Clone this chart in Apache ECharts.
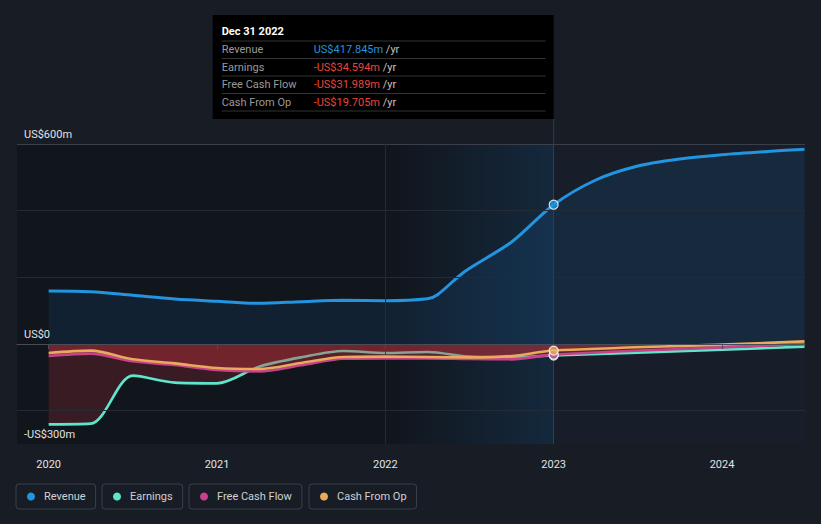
<!DOCTYPE html>
<html><head><meta charset="utf-8">
<script src="https://cdn.jsdelivr.net/npm/echarts@6/dist/echarts.min.js"></script>
<style>html,body{margin:0;padding:0;background:#171c25;}#c{width:821px;height:524px;}</style>
</head><body><div id="c"></div>
<script>
// ---- data (values in US$ millions, dates as decimal years) ----
const revenueDates = [2020.0, 2020.25, 2020.5, 2020.75, 2021.0, 2021.25, 2021.5, 2021.75, 2022.0, 2022.25, 2022.31, 2022.47, 2022.75, 2023.0, 2023.25, 2023.5, 2023.75, 2024.0, 2024.25, 2024.49];
const revenueValues = [159, 157, 146, 135, 128, 122, 127, 131, 130, 136, 148, 217, 306, 417.845, 492, 534, 555, 568, 577, 584];
const flowDates = [2020.0, 2020.25, 2020.5, 2020.75, 2021.0, 2021.25, 2021.5, 2021.75, 2022.0, 2022.25, 2022.5, 2022.75, 2023.0, 2024.0, 2024.49];
const earningsValues = [-241, -239, -95, -116, -118, -68, -40, -21, -27, -24, -38, -40, -34.594, -17, -8];
const fcfValues = [-36, -29, -52, -63, -78, -82, -64, -44, -43, -43, -45, -46, -31.989, -10, 0];
const cfoValues = [-27, -20, -46, -58, -72, -75, -57, -39, -38, -39, -40, -36, -19.705, -2, 8];
const yearTicks = [2020, 2021, 2022, 2023, 2024];
const yLabelValues = [-300, 0, 600];
const gridValues = [400, 200, -200];
const xMin = 2019.812, xMax = 2024.493;
const pastStart = 2022, presentDate = 2023;
const tooltipTitle = 'Dec 31 2022';
const tooltipRows = [
  ['Revenue', 'US$417.845m', '#2394df'],
  ['Earnings', '-US$34.594m', '#e8453e'],
  ['Free Cash Flow', '-US$31.989m', '#e8453e'],
  ['Cash From Op', '-US$19.705m', '#e8453e']
];
const names = ['Revenue', 'Earnings', 'Free Cash Flow', 'Cash From Op'];
const colors = ['#2394df', '#5ee6cd', '#c7428a', '#e9aa5c'];
const legendLefts = [16, 102, 189, 309];

const FONT = 'Roboto, "Noto Sans", sans-serif';
const zip = (xs, ys) => xs.map((x, i) => [x, ys[i]]);
const redArea = { color: 'rgba(210,52,62,0.30)', origin: 0 };
const presentIdx = flowDates.indexOf(presentDate);
const presentRevIdx = revenueDates.indexOf(presentDate);
const SMOOTH = 0.3;

const chart = echarts.init(document.getElementById('c'), null, { renderer: 'svg' });

const option = {
  backgroundColor: '#171c25',
  animation: false,
  grid: { left: 17, right: 16, top: 144, bottom: 80 },
  xAxis: {
    type: 'value', min: xMin, max: xMax, z: 10,
    splitLine: { show: false },
    axisLine: { show: true, lineStyle: { color: '#474c56', width: 1 } },
    axisTick: { show: true, customValues: yearTicks, length: 5, lineStyle: { color: '#474c56' } },
    axisLabel: { customValues: yearTicks, formatter: v => String(v), color: '#e2e2e2', fontSize: 11, fontFamily: FONT, margin: 15 }
  },
  yAxis: {
    type: 'value', min: -300, max: 600, z: 10,
    splitLine: { show: false },
    axisLine: { show: false }, axisTick: { show: false },
    axisLabel: {
      inside: true, customValues: yLabelValues, margin: 7, verticalAlign: 'bottom',
      padding: [0, 0, 4, 0],
      color: '#e2e2e2', fontSize: 11, fontFamily: FONT,
      formatter: v => v === 0 ? 'US$0' : (v < 0 ? '-US$' + (-v) + 'm' : 'US$' + v + 'm')
    }
  },
  legend: names.map((n, i) => ({
    data: [n], left: legendLefts[i], top: 484,
    orient: 'horizontal',
    icon: 'circle', itemWidth: 8, itemHeight: 8,
    padding: [7, 10, 7, 11],
    borderColor: '#3b414b', borderWidth: 1, borderRadius: 3,
    textStyle: { color: '#cfd2d6', fontSize: 11, fontFamily: FONT, padding: [0, 0, 0, 4] },
    selectedMode: false
  })),
  series: [
    { // background regions
      type: 'line', data: [[xMin, 0]], symbol: 'none', lineStyle: { width: 0 }, z: 0, silent: true,
      markArea: {
        silent: true,
        data: [
          [{ xAxis: xMin, itemStyle: { color: '#11151c' } }, { xAxis: presentDate }],
          [{ xAxis: pastStart, itemStyle: { color: new echarts.graphic.LinearGradient(0, 0, 1, 0, [
            { offset: 0, color: 'rgba(30,100,160,0)' }, { offset: 1, color: 'rgba(30,100,160,0.25)' }]) } }, { xAxis: presentDate }],
          [{ xAxis: presentDate, itemStyle: { color: '#171e29' } }, { xAxis: xMax }]
        ]
      }
    },
    { // grid lines
      type: 'line', data: [[xMin, 0]], symbol: 'none', lineStyle: { width: 0 }, z: 1, silent: true,
      markLine: {
        silent: true, symbol: ['none', 'none'], label: { show: false },
        lineStyle: { type: 'solid', width: 1, color: '#252b35' },
        data: [
          { yAxis: 600, lineStyle: { color: '#3a3f49' } },
          ...gridValues.map(v => ({ yAxis: v })),
          { yAxis: 0, lineStyle: { color: '#eeeeee' } },
          { xAxis: pastStart, lineStyle: { color: '#1f2b3a' } },
          { xAxis: presentDate, lineStyle: { color: '#2c3e52' } }
        ]
      }
    },
    {
      name: names[0], type: 'line', data: zip(revenueDates, revenueValues), smooth: SMOOTH,
      symbol: 'none', z: 3, color: colors[0],
      lineStyle: { color: colors[0], width: 3 },
      areaStyle: { color: 'rgba(30,115,185,0.19)', origin: 0 }
    },
    {
      name: names[1], type: 'line', data: zip(flowDates, earningsValues), smooth: SMOOTH,
      symbol: 'none', z: 4, color: colors[1],
      lineStyle: { color: colors[1], width: 2.6 }, areaStyle: redArea
    },
    {
      name: names[2], type: 'line', data: zip(flowDates, fcfValues), smooth: SMOOTH,
      symbol: 'none', z: 5, color: colors[2],
      lineStyle: { color: colors[2], width: 2.6 }, areaStyle: redArea
    },
    {
      name: names[3], type: 'line', data: zip(flowDates, cfoValues), smooth: SMOOTH,
      symbol: 'none', z: 6, color: colors[3],
      lineStyle: { color: colors[3], width: 2.6 }, areaStyle: redArea
    },
    {
      name: 'present', type: 'scatter', z: 10, symbolSize: 9, silent: true,
      data: [
        { value: [presentDate, earningsValues[presentIdx]], itemStyle: { color: colors[1] } },
        { value: [presentDate, fcfValues[presentIdx]], itemStyle: { color: colors[2] } },
        { value: [presentDate, cfoValues[presentIdx]], itemStyle: { color: colors[3] } },
        { value: [presentDate, revenueValues[presentRevIdx]], itemStyle: { color: colors[0] } }
      ],
      itemStyle: { borderColor: '#ffffff', borderWidth: 1.2 }
    }
  ]
};
chart.setOption(option);

const xp = chart.convertToPixel({ xAxisIndex: 0 }, presentDate);
const yTop = chart.convertToPixel({ yAxisIndex: 0 }, 600);
const boxW = 341, boxX = xp - boxW, boxY = 15, boxH = 104;
const rowY = [49.5, 67, 84.5, 102];
const sepY = [41, 58.5, 76, 93.5, 111];
const gfx = [
  { type: 'line', shape: { x1: xp, y1: boxY + boxH, x2: xp, y2: yTop }, style: { stroke: '#2c3e52', lineWidth: 1 }, silent: true },
  { type: 'rect', shape: { x: boxX, y: boxY, width: boxW, height: boxH }, style: { fill: '#000000' }, silent: true },
  { type: 'text', x: boxX + 9, y: 31, style: { text: tooltipTitle, fill: '#ffffff', font: 'bold 11px ' + FONT, verticalAlign: 'middle' } },
  ...sepY.map(y => ({ type: 'line', shape: { x1: boxX + 9, y1: y, x2: xp - 8, y2: y }, style: { stroke: '#333333', lineWidth: 1 }, silent: true })),
  ...tooltipRows.map((r, i) => ({ type: 'text', x: boxX + 9, y: rowY[i], style: { text: r[0], fill: '#9a9a9a', font: '11px ' + FONT, verticalAlign: 'middle' } })),
  ...tooltipRows.map((r, i) => ({ type: 'text', x: boxX + 101, y: rowY[i], style: {
    text: '{v|' + r[1] + '} {u|/yr}', verticalAlign: 'middle', font: '11px ' + FONT,
    rich: { v: { fill: r[2], font: '11px ' + FONT }, u: { fill: '#c4c4c4', font: '11px ' + FONT } } } })),
  { type: 'text', x: xp - 9, y: 156, style: { text: 'Past', fill: '#e6e6e6', font: '11px ' + FONT, align: 'right', verticalAlign: 'middle' } },
  { type: 'text', x: xp + 7, y: 156, style: { text: 'Analysts Forecasts', fill: '#8c9099', font: '11px ' + FONT, align: 'left', verticalAlign: 'middle' } }
];
chart.setOption({ graphic: gfx });
</script></body></html>
